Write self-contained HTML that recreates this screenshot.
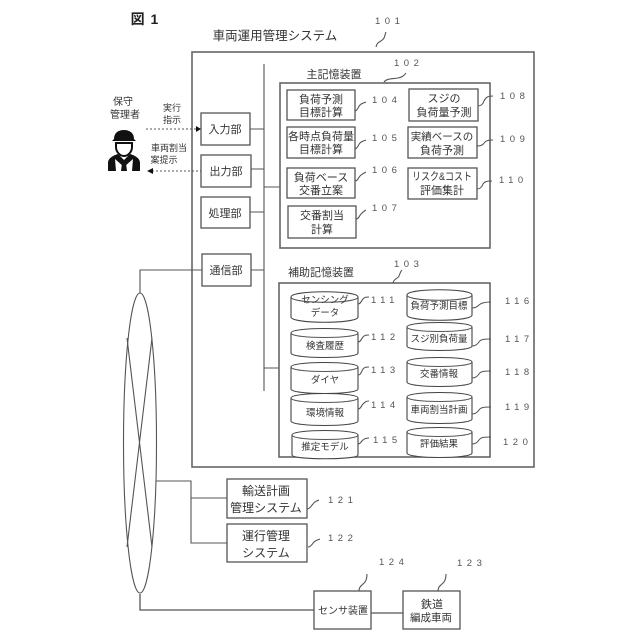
<!DOCTYPE html>
<html lang="ja"><head><meta charset="utf-8"><title>図1</title>
<style>
html,body{margin:0;padding:0;background:#fff}
svg{display:block;filter:blur(.35px)}
text{font-family:"Liberation Sans","Noto Sans CJK JP",sans-serif;fill:#333;text-anchor:middle;font-size:11px}
.n{font-size:9.5px;letter-spacing:4.5px;fill:#555;text-anchor:start}
.s{font-size:9px}
.b{fill:#fff;stroke:#555;stroke-width:1.3}
.o{fill:none;stroke:#666;stroke-width:1.6}
.l{fill:none;stroke:#555;stroke-width:1.1}
.c{fill:#fff;stroke:#444;stroke-width:1.1}
</style></head><body>
<svg width="640" height="640" viewBox="0 0 640 640" xmlns="http://www.w3.org/2000/svg">
<rect width="640" height="640" fill="#fff"/>
<text x="145" y="24" style="font-size:14px;font-weight:bold;fill:#222;letter-spacing:1px">図 1</text>
<text x="275" y="40" style="font-size:12.5px">車両運用管理システム</text>
<rect class="o" x="192" y="52" width="342" height="415"/>
<path class="l" d="M264 64V391M250 129H264M251 169H264M250 212H264M251 270H264M264 187H280M264 368H279"/>
<rect class="o" x="280" y="83" width="210" height="165"/>
<rect class="o" x="279" y="283" width="211" height="174"/>
<text x="334" y="78">主記憶装置</text>
<text x="321" y="276">補助記憶装置</text>

<!-- left units -->
<rect class="b" x="201" y="113" width="49" height="32"/><text x="225" y="133">入力部</text>
<rect class="b" x="201" y="155" width="50" height="32"/><text x="226" y="175">出力部</text>
<rect class="b" x="201" y="197" width="49" height="31"/><text x="225" y="217">処理部</text>
<rect class="b" x="202" y="254" width="49" height="32"/><text x="226" y="274">通信部</text>

<!-- actor -->
<text x="123" y="105" class="s" style="font-size:10px">保守</text>
<text x="125" y="118" class="s" style="font-size:10px">管理者</text>
<text x="172" y="111" class="s">実行</text>
<text x="172" y="123" class="s">指示</text>
<text x="169" y="151" class="s">車両割当</text>
<text x="164" y="163" class="s">案提示</text>
<path d="M146 129H196" stroke="#555" stroke-width="1" stroke-dasharray="2 2" fill="none"/>
<path d="M201 129l-5-3v6z" fill="#111"/>
<path d="M152 171H201" stroke="#555" stroke-width="1" stroke-dasharray="2 2" fill="none"/>
<path d="M147 171l6-3v6z" fill="#111"/>
<g fill="#111">
<path d="M114 139c0-6 4-9 10-9s10 3 10 9l2 2H112z"/>
<path d="M116 143h16v4c0 5-4 9-8 9s-8-4-8-9z" fill="#fff" stroke="#111" stroke-width="2"/>
<path d="M108 171v-8c0-4 3-6 7-8l3-1 6 6 6-6 3 1c4 2 7 4 7 8v8z"/>
<path d="M115 159l9 8 9-8 -1 12h-16z" fill="#fff"/>
<path d="M122 163h4l1 8h-6z"/>
</g>

<!-- main memory boxes -->
<g>
<rect class="b" x="287" y="90" width="68" height="30"/><text x="321" y="103">負荷予測</text><text x="321" y="116">目標計算</text>
<rect class="b" x="287" y="127" width="68" height="31"/><text x="321" y="140">各時点負荷量</text><text x="321" y="153">目標計算</text>
<rect class="b" x="287" y="168" width="68" height="30"/><text x="321" y="181">負荷ベース</text><text x="321" y="194">交番立案</text>
<rect class="b" x="288" y="206" width="68" height="32"/><text x="322" y="219">交番割当</text><text x="322" y="233">計算</text>
<rect class="b" x="409" y="89" width="69" height="32"/><text x="444" y="102">スジの</text><text x="444" y="116">負荷量予測</text>
<rect class="b" x="408" y="127" width="69" height="31"/><text x="442" y="140" style="font-size:10.5px">実績ベースの</text><text x="442" y="154">負荷予測</text>
<rect class="b" x="408" y="168" width="69" height="31"/><text x="442" y="180" textLength="60" lengthAdjust="spacingAndGlyphs">リスク&amp;コスト</text><text x="442" y="194">評価集計</text>
</g>

<!-- cylinders -->
<g id="cyl">
<path class="c" d="M291 297c0-7 67-7 67 0v20c0 7-67 7-67 0z"/><path class="l" d="M291 297c0 7 67 7 67 0"/><text x="325" y="303" style="font-size:9.500px">センシング</text><text x="325" y="316" style="font-size:9.500px">データ</text>
<path class="c" d="M291 333c0-6 67-6 67 0v20c0 6-67 6-67 0z"/><path class="l" d="M291 333c0 6 67 6 67 0"/><text x="325" y="349" style="font-size:9.500px">検査履歴</text>
<path class="c" d="M291 367c0-6 67-6 67 0v22c0 6-67 6-67 0z"/><path class="l" d="M291 367c0 6 67 6 67 0"/><text x="325" y="383" style="font-size:9.500px">ダイヤ</text>
<path class="c" d="M291 398c0-6 67-6 67 0v23c0 6-67 6-67 0z"/><path class="l" d="M291 398c0 6 67 6 67 0"/><text x="325" y="416" style="font-size:9.500px">環境情報</text>
<path class="c" d="M292 435c0-6 66-6 66 0v20c0 5-66 5-66 0z"/><path class="l" d="M292 435c0 6 66 6 66 0"/><text x="325" y="450" style="font-size:9.500px">推定モデル</text>

<path class="c" d="M407 295c0-7 65-7 65 0v20c0 7-65 7-65 0z"/><path class="l" d="M407 295c0 7 65 7 65 0"/><text x="439" y="309" style="font-size:9.500px">負荷予測目標</text>
<path class="c" d="M407 327c0-6 65-6 65 0v19c0 6-65 6-65 0z"/><path class="l" d="M407 327c0 6 65 6 65 0"/><text x="439" y="342" style="font-size:9.500px">スジ別負荷量</text>
<path class="c" d="M407 362c0-6 65-6 65 0v20c0 6-65 6-65 0z"/><path class="l" d="M407 362c0 6 65 6 65 0"/><text x="439" y="377" style="font-size:9.500px">交番情報</text>
<path class="c" d="M407 397c0-6 65-6 65 0v22c0 6-65 6-65 0z"/><path class="l" d="M407 397c0 6 65 6 65 0"/><text x="439" y="413" style="font-size:9.500px">車両割当計画</text>
<path class="c" d="M407 432c0-6 65-6 65 0v21c0 6-65 6-65 0z"/><path class="l" d="M407 432c0 6 65 6 65 0"/><text x="439" y="447" style="font-size:9.500px">評価結果</text>
</g>

<!-- network -->
<ellipse cx="140" cy="443" rx="16.500" ry="150" fill="none" stroke="#555" stroke-width="1.100"/>
<path class="l" d="M127 338L152 547M152 338L127 547"/>
<path class="l" d="M202 270H140V293M156 481H191V543H228M191 498H228"/>
<path d="M140 594V610H314M371 613H403" fill="none" stroke="#555" stroke-width="1.300"/>

<!-- external -->
<rect class="b" x="227" y="479" width="80" height="39"/><text x="266" y="495" style="font-size:12px">輸送計画</text><text x="266" y="512" style="font-size:12px">管理システム</text>
<rect class="b" x="227" y="524" width="80" height="38"/><text x="266" y="540" style="font-size:12px">運行管理</text><text x="266" y="557" style="font-size:12px">システム</text>
<rect class="b" x="314" y="591" width="57" height="38"/><text x="343" y="614" style="font-size:10px">センサ装置</text>
<rect class="b" x="403" y="591" width="57" height="38"/><text x="432" y="608">鉄道</text><text x="431" y="621" style="font-size:10.500px">編成車両</text>

<!-- leader squiggles -->
<path class="l" d="M376 47c1-6 6-5 8-9 1-2 1-4 2-6"/>
<path class="l" d="M384 82c3-4 9-3 14-4 4-1 6-2 8-5"/>
<path class="l" d="M393 283c1-5 5-4 6-7 1-2 1-4 3-6"/>
<path class="l" d="M355 111c3-1 3-4 5-6 2-2 4-2 6-3M355 149c3-1 3-4 5-6 2-2 4-2 6-3M355 181c3 0 3-3 5-5 2-2 4-3 6-4M356 219c3 0 3-3 5-5 2-2 3-3 5-4"/>
<path class="l" d="M478 106c3 0 5-2 6-5 2-4 4-5 9-5M477 146c4 0 6-1 8-4 2-2 5-2 8-2M477 189c3 0 5-2 6-5 2-3 5-3 9-3"/>
<path class="l" d="M358 304c3 0 3-3 5-5 2-2 3-2 6-2M358 342c3 0 3-3 5-5 2-2 3-2 6-2M358 375c3 0 3-3 5-6 2-2 3-2 6-2M358 409c3 0 3-3 5-5 2-2 3-3 6-3M358 444c3 0 3-3 5-4 2-2 4-2 6-2"/>
<path class="l" d="M472 308c3 0 5-1 7-3 2-2 6-3 12-3M472 346c3 0 5-1 7-4 2-3 6-3 12-3M472 378c3 0 5-1 7-4 2-3 6-3 12-3M472 414c3 0 5-1 7-4 2-3 6-3 12-3M472 444c3 0 5-1 7-4 2-3 6-3 12-3"/>
<path class="l" d="M307 509c3 0 4-3 6-5 2-3 4-3 6-4M308 547c3 0 4-3 6-5 2-2 4-2 6-3"/>
<path class="l" d="M359 591c0-4 2-5 4-7 3-2 4-5 4-10M438 591c0-4 2-5 4-7 3-2 4-5 4-10"/>

<!-- numbers -->
<g>
<text class="n" x="375" y="24">101</text>
<text class="n" x="394" y="66">102</text>
<text class="n" x="394" y="267">103</text>
<text class="n" x="372" y="103">104</text>
<text class="n" x="372" y="141">105</text>
<text class="n" x="372" y="173">106</text>
<text class="n" x="372" y="211">107</text>
<text class="n" x="500" y="99">108</text>
<text class="n" x="500" y="142">109</text>
<text class="n" x="499" y="183">110</text>
<text class="n" x="371" y="303">111</text>
<text class="n" x="371" y="340">112</text>
<text class="n" x="371" y="373">113</text>
<text class="n" x="371" y="408">114</text>
<text class="n" x="373" y="443">115</text>
<text class="n" x="505" y="304">116</text>
<text class="n" x="505" y="342">117</text>
<text class="n" x="505" y="375">118</text>
<text class="n" x="505" y="410">119</text>
<text class="n" x="503" y="445">120</text>
<text class="n" x="328" y="503">121</text>
<text class="n" x="328" y="541">122</text>
<text class="n" x="379" y="565">124</text>
<text class="n" x="457" y="566">123</text>
</g>
</svg>
</body></html>
